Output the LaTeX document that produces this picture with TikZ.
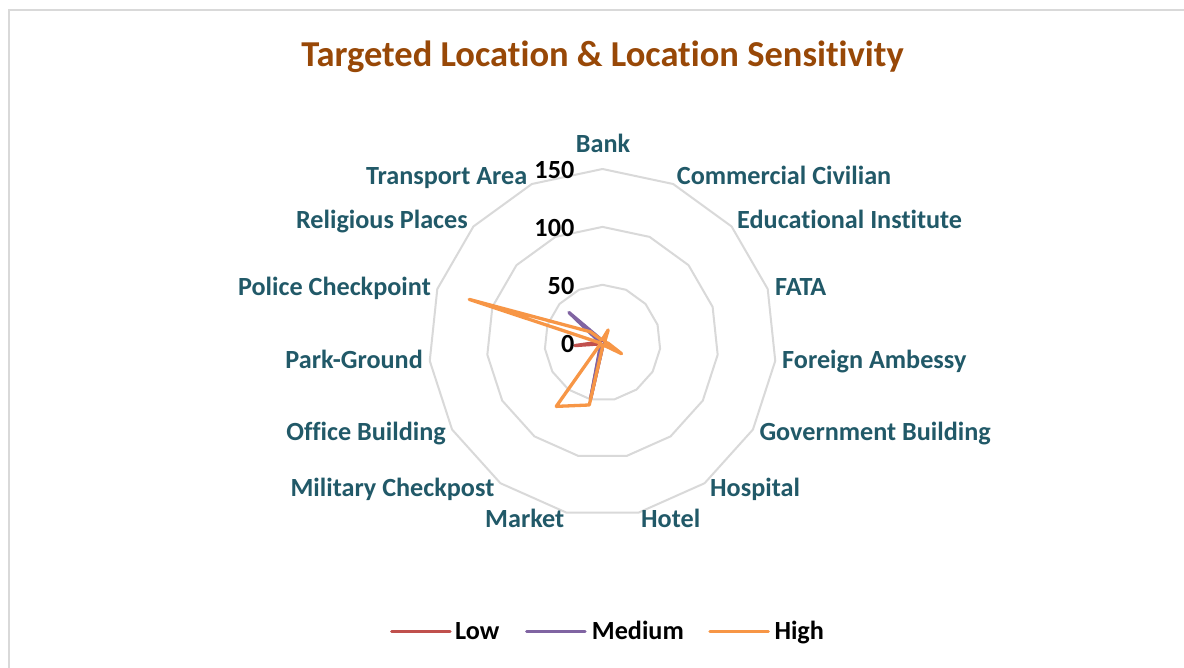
\documentclass[tikz,border=0pt]{standalone}
\usepackage{fontspec}
\setmainfont{Carlito}[Ligatures=NoCommon]
\definecolor{gridc}{HTML}{D9D9D9}
\definecolor{labc}{HTML}{215968}
\definecolor{titlec}{HTML}{984807}
\definecolor{lowc}{HTML}{C0504D}
\definecolor{medc}{HTML}{8064A2}
\definecolor{highc}{HTML}{F79646}
\tikzset{
  catlab/.style={text=labc, font=\fontsize{26.2}{30}\selectfont\bfseries, inner sep=0pt},
  ticklab/.style={text=black, font=\fontsize{26.2}{30}\selectfont\bfseries, inner sep=0pt, anchor=base east},
  ring/.style={draw=gridc, line width=2pt, line join=round},
  series/.style={line width=3.3pt, line join=round, line cap=round},
}
\begin{document}
\begin{tikzpicture}[x=1pt,y=1pt]
\useasboundingbox (0,0) rectangle (1184,668);
\fill[white] (0,0) rectangle (1184,668);
\begin{scope}
  \clip (0,0) rectangle (1184,668);
  \draw[draw=gridc, line width=2pt] (8.5,-20) -- (8.5,658) -- (1220,658);
\end{scope}
% title
\node[text=titlec, font=\fontsize{36.5}{42}\selectfont\bfseries, inner sep=0pt, anchor=base] (title) at (602.5,601.5) {Targeted Location \& Location Sensitivity};
% radar
\begin{scope}[shift={(602.5,325.3)}, x=1.158pt, y=1.158pt]
  \coordinate (c) at (0,0);
  \foreach \r in {50,100,150}{
    \draw[ring] (90:\r) \foreach \i in {1,...,14}{ -- ({90-24*\i}:\r)} -- cycle;
  }
  % Low
  \draw[series, draw=lowc] (90:2)
    \foreach \v [count=\i] in {2,2,2,2,2,2,2,50,2,2,24,2,2,2}{ -- ({90-24*\i}:\v)} -- cycle;
  % Medium
  \draw[series, draw=medc] (90:3)
    \foreach \v [count=\i] in {3,2,2,2,2,2,2,48,3,2,2,3,39,3}{ -- ({90-24*\i}:\v)} -- cycle;
  % High
  \draw[series, draw=highc] (90:3)
    \foreach \v [count=\i] in {12,3,2,5,19,3,2,55,68,2,2,121,14,3}{ -- ({90-24*\i}:\v)} -- cycle;
\end{scope}
% tick labels
\node[ticklab] (t150) at (574.5,489.7) {150};
\node[ticklab] (t100) at (574.5,431.3) {100};
\node[ticklab] (t50) at (574.5,373) {50};
\node[ticklab] (t0) at (574.5,315.3) {0};
% category labels
\node[catlab, anchor=base] (bank) at (603,515.3) {Bank};
\node[catlab, anchor=base west] (comm) at (676.7,483) {Commercial Civilian};
\node[catlab, anchor=base west] (edu) at (737,439.5) {Educational Institute};
\node[catlab, anchor=base west] (fata) at (775,372) {FATA};
\node[catlab, anchor=base west] (fore) at (782,299) {Foreign Ambessy};
\node[catlab, anchor=base west] (gov) at (759.3,227) {Government Building};
\node[catlab, anchor=base west] (hosp) at (710,171.3) {Hospital};
\node[catlab, anchor=base west] (hotel) at (641,140.5) {Hotel};
\node[catlab, anchor=base east] (market) at (564.5,140.5) {Market};
\node[catlab, anchor=base east] (mil) at (494.5,171.3) {Military Checkpost};
\node[catlab, anchor=base east] (office) at (446,227) {Office Building};
\node[catlab, anchor=base east] (park) at (423,299) {Park-Ground};
\node[catlab, anchor=base east] (police) at (431,372) {Police Checkpoint};
\node[catlab, anchor=base east] (relig) at (468,439.5) {Religious Places};
\node[catlab, anchor=base east] (trans) at (527.5,483) {Transport Area};
% legend
\tikzset{legtext/.style={text=black, font=\fontsize{26.2}{30}\selectfont\bfseries, inner sep=0pt, anchor=base west}}
\coordinate (lowa) at (391.7,36.3);
\coordinate (lowb) at (450,36.3);
\draw[lowc, line width=3.3pt, line cap=round] (lowa) -- (lowb);
\node[legtext] (lowt) at (455,28.7) {Low};
\coordinate (meda) at (526.7,36.3);
\coordinate (medb) at (585,36.3);
\draw[medc, line width=3.3pt, line cap=round] (meda) -- (medb);
\node[legtext] (medt) at (591.7,28.7) {Medium};
\coordinate (higha) at (710,36.3);
\coordinate (highb) at (768.3,36.3);
\draw[highc, line width=3.3pt, line cap=round] (higha) -- (highb);
\node[legtext] (hight) at (774.3,28.7) {High};
\end{tikzpicture}
\end{document}
